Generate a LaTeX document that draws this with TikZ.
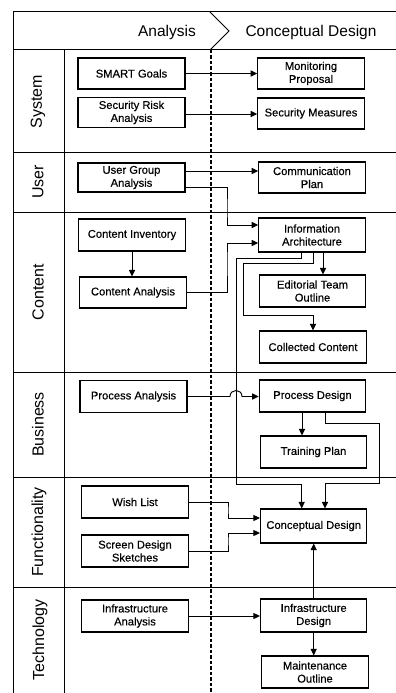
\documentclass[tikz,border=0pt]{standalone}
\usepackage{fontspec}
\setmainfont{Liberation Sans}
\newfontface\boxfont[FakeBold=0.35]{Liberation Sans}
\usetikzlibrary{arrows.meta,calc}
\begin{document}
\begin{tikzpicture}[x=1pt,y=-1pt,
  box/.style={draw,line width=1.05pt,align=center,inner sep=1pt,
    font=\boxfont\fontsize{11.2}{13}\selectfont},
  lbox/.style={box,minimum width=107pt,minimum height=31pt},
  rbox/.style={box,minimum width=106.5pt,minimum height=31pt},
  arr/.style={line width=0.95pt,-{Triangle[length=6.5pt,width=6pt]}},
  grid/.style={line width=1pt},
  lane/.style={rotate=90,font=\fontsize{16}{18}\selectfont},
  phase/.style={font=\fontsize{15.5}{18}\selectfont}]
\useasboundingbox (0,0) rectangle (396,693);

% header band with phase chevron
\draw[grid] (396,12) -- (13,12) -- (13,693);
\draw[grid] (13,50) -- (396,50);
\draw[grid] (210,12) -- (229,31) -- (210,50);
\node[phase] (hana) at (167,32) {Analysis};
\node[phase] (hcon) at (311,32) {Conceptual Design};

% lane label column and lane separators
\draw[grid] (64.5,50) -- (64.5,693);
\foreach \yy in {152,212,372,477,587} \draw[grid] (13,\yy) -- (396,\yy);
\draw[line width=1.3pt,dash pattern=on 3.5pt off 2pt] (211,50) -- (211,693);

\node[lane] (lsys) at (38,101.5) {System};
\node[lane] (lusr) at (38,182) {User};
\node[lane] (lcon) at (38,292) {Content};
\node[lane] (lbus) at (38,424.5) {Business};
\node[lane] (lfun) at (39,532) {Functionality};
\node[lane] (ltec) at (40,640) {Technology};

% analysis column
\node[lbox] (smart)  at (131.5,73.5) {SMART Goals};
\node[lbox,minimum height=30pt] (srisk) at (131.5,112.5) {Security Risk\\Analysis};
\node[lbox,minimum height=29pt] (ugroup) at (131.5,177.5) {User Group\\Analysis};
\node[lbox,minimum height=32pt] (cinv) at (132,235) {Content Inventory};
\node[lbox] (cana)   at (133,292.5) {Content Analysis};
\node[lbox,minimum height=32pt] (pana) at (133.5,396.5) {Process Analysis};
\node[lbox,minimum height=32pt] (wish) at (135,502) {Wish List};
\node[lbox,minimum height=32pt] (sketch) at (135,551) {Screen Design\\Sketches};
\node[lbox,minimum height=32pt] (iana) at (135,616) {Infrastructure\\Analysis};

% conceptual design column
\node[rbox] (monitor) at (311,73.5) {Monitoring\\Proposal};
\node[rbox] (secm)    at (311,113.5) {Security Measures};
\node[rbox] (comm)    at (312,177.5) {Communication\\Plan};
\node[rbox,minimum height=34pt] (ia) at (312,235) {Information\\Architecture};
\node[rbox,minimum height=32pt] (edit) at (312.5,291) {Editorial Team\\Outline};
\node[rbox,minimum height=32pt] (coll) at (313,347) {Collected Content};
\node[rbox,minimum height=32pt] (pdes) at (312.5,396) {Process Design};
\node[rbox,minimum height=32pt] (train) at (313.5,452) {Training Plan};
\node[rbox,minimum height=34pt] (cdes) at (313.7,526) {Conceptual Design};
\node[rbox,minimum height=33pt] (ides) at (313.7,615.5) {Infrastructure\\Design};
\node[rbox,minimum height=32pt] (mout) at (315,672) {Maintenance\\Outline};

% connector end points
\coordinate (srE) at ($(srisk.east)+(0,1.5)$);
\coordinate (ugA) at ($(ugroup.east)+(0,-6.5)$);
\coordinate (ugB) at ($(ugroup.east)+(0,9.5)$);
\coordinate (iaR) at ($(ia.south)+(11,0)$);
\coordinate (iaM) at ($(ia.south)+(1,0)$);
\coordinate (iaL) at ($(ia.south)+(-11,0)$);
\coordinate (pdL) at ($(pdes.south)+(-10.5,0)$);
\coordinate (pdR) at ($(pdes.south)+(12.5,0)$);

% system lane
\draw[arr] (smart.east) -- (smart.east -| monitor.west);
\draw[arr] (srE) -- (srE -| secm.west);

% user lane
\draw[arr] (ugA) -- (ugA -| comm.west);
\draw[arr] (ugB) -| (227,210) |- ($(ia.west)+(0,-10)$);

% content lane
\draw[arr] (cinv.south) -- (cinv.south |- cana.north);
\draw[arr] (cana.east) -| (227,260) |- ($(ia.west)+(0,8)$);
\draw[arr] (iaR) -- (iaR |- edit.north);
\draw[arr] (iaM) -- ++(0,11) -| (243,315) -| (coll.north);
\draw[arr] (iaL) -- ++(0,6) -| (236,484) -| ($(cdes.north)+(-12,0)$);

% business lane (hop over the line from Information Architecture)
\draw[arr] (pana.east) -- (230,396.5) .. controls (230,388.5) and (242,388.5) .. (242,396.5)
  -- (pdes.west |- 0,396.5);
\draw[arr] (pdL) -- (pdL |- train.north);
\draw[arr] (pdR) |- (379,423) |- (325,483) -- ($(cdes.north)+(11.3,0)$);

% functionality lane
\draw[arr] (wish.east) -| (228,510) |- ($(cdes.west)+(0,-8)$);
\draw[arr] (sketch.east) -| (228,540) |- ($(cdes.west)+(0,7)$);

% technology lane
\draw[arr] (iana.east) -- (iana.east -| ides.west);
\draw[arr] (ides.north) -- (cdes.south);
\draw[arr] (ides.south) -- (ides.south |- mout.north);
\end{tikzpicture}
\end{document}
